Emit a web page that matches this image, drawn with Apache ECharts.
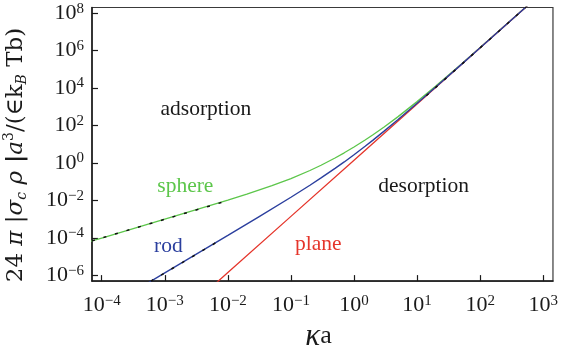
<!DOCTYPE html>
<html>
<head>
<meta charset="utf-8">
<script src="https://cdn.jsdelivr.net/npm/echarts@6/dist/echarts.min.js"></script>
<style>
html, body { margin: 0; padding: 0; background: #fff; }
#chart { width: 561px; height: 357px; }
</style>
</head>
<body>
<div id="chart"></div>
<script>
// Critical charge density versus κa for three geometries (log–log).
const sphereKa = [5e-5, 1e-4, 1e-3, 1e-2, 0.02, 0.05, 0.1, 0.2, 0.3, 0.5, 0.7, 1, 1.5, 2, 3, 5, 10, 20, 50, 100, 1000];
const sphereY  = [4.9e-5, 9.8e-5, 9.85e-4, 1.03e-2, 2.15e-2, 6.09e-2, 0.146, 0.395, 0.755, 1.84, 3.47, 7.08, 16.8, 32.0, 83.0, 297, 1880, 1.31e4, 1.87e5, 1.45e6, 1.405e9];

const rodKa = [5e-4, 1e-3, 1e-2, 0.03, 0.1, 0.2, 0.3, 0.5, 0.7, 1, 1.5, 2, 3, 5, 10, 20, 50, 100, 1000];
const rodY  = [3.33e-7, 1.33e-6, 1.34e-4, 1.24e-3, 1.47e-2, 6.44e-2, 0.158, 0.508, 1.13, 2.73, 7.72, 16.5, 49.8, 208, 1530, 1.17e4, 1.78e5, 1.41e6, 1.40e9];

const planeKa = [4e-3, 1e-2, 0.1, 1, 10, 100, 1000];
const planeY  = [8.96e-8, 1.4e-6, 1.4e-3, 1.4, 1400, 1.4e6, 1.4e9];

// limiting forms (dashed)
const sphereLimitKa = [7e-5, 8e-3];
const sphereLimitY  = [6.9e-5, 7.8e-3];
const rodLimitKa = [6e-4, 8e-3];
const rodLimitY  = [4.8e-7, 8.5e-5];
const bulkLimitKa = [14, 1000];
const bulkLimitY  = [3840, 1.4e9];

// decade exponents carrying ticks and labels
const xTickExp = [-4, -3, -2, -1, 0, 1, 2, 3];
const yTickExp = [-6, -4, -2, 0, 2, 4, 6, 8];

const lg = Math.log10;
const toLog = (xs, ys) => xs.map((x, i) => [lg(x), lg(ys[i])]);

const SERIF = '"Liberation Serif", "Times New Roman", serif';
const WIDE_SERIF = '"DejaVu Serif", serif';
const INK = '#1a1a1a';

const decadeLabel = v => {
  const e = Math.round(v);
  const s = e < 0 ? '\u2212' + Math.abs(e) : String(e);
  return '{b|10}{s|' + s + '}';
};
const decadeRich = {
  b: { fontFamily: SERIF, fontSize: 22, color: INK, lineHeight: 24 },
  s: { fontFamily: SERIF, fontSize: 15, color: INK, lineHeight: 15, verticalAlign: 'top' }
};

const chart = echarts.init(document.getElementById('chart'), null, { renderer: 'canvas' });

const lineSeries = (data, color, width, z, dash) => ({
  type: 'line',
  data,
  showSymbol: false,
  silent: true,
  smooth: false,
  z,
  lineStyle: { color, width, type: dash || 'solid' }
});

// rich pieces of the vertical axis title
const yTitleRich = {
  n:   { fontFamily: WIDE_SERIF, fontSize: 23, fill: INK, lineHeight: 27 },
  i:   { fontFamily: WIDE_SERIF, fontStyle: 'italic', fontSize: 23, fill: INK, lineHeight: 27 },
  bar: { fontFamily: WIDE_SERIF, fontWeight: 'bold', fontSize: 23, fill: INK, lineHeight: 27 },
  sub: { fontFamily: WIDE_SERIF, fontStyle: 'italic', fontSize: 14, fill: INK, lineHeight: 15, verticalAlign: 'bottom' },
  sup: { fontFamily: WIDE_SERIF, fontSize: 14, fill: INK, lineHeight: 15, verticalAlign: 'top' }
};

chart.setOption({
  animation: false,
  grid: {
    left: 92, right: 8, top: 7.5, bottom: 65,
    show: true, borderColor: '#3a3a3a', borderWidth: 1.2, backgroundColor: 'transparent'
  },
  xAxis: {
    type: 'value',
    min: -4.154, max: 3.154,
    axisLine: { onZero: false, lineStyle: { color: INK, width: 1.5 } },
    axisTick: { inside: true, length: 6, customValues: xTickExp, lineStyle: { color: INK, width: 1.2 } },
    axisLabel: { customValues: xTickExp, formatter: decadeLabel, rich: decadeRich, margin: 12 },
    splitLine: { show: false },
    name: '{k|κ}{a|a}',
    nameLocation: 'middle',
    nameGap: 39,
    nameTextStyle: {
      padding: [0, 8, 0, 0],
      rich: {
        k: { fontFamily: SERIF, fontStyle: 'italic', fontSize: 31, color: INK },
        a: { fontFamily: SERIF, fontSize: 26, color: INK }
      }
    }
  },
  yAxis: {
    type: 'value',
    min: -6.31, max: 8.3,
    axisLine: { onZero: false, lineStyle: { color: INK, width: 1.5 } },
    axisTick: { inside: true, length: 6, customValues: yTickExp, lineStyle: { color: INK, width: 1.2 } },
    axisLabel: { customValues: yTickExp, formatter: decadeLabel, rich: decadeRich, margin: 8 },
    splitLine: { show: false }
  },
  series: [
    lineSeries(toLog(sphereKa, sphereY), '#5cc64a', 1.3, 2),
    lineSeries(toLog(planeKa, planeY), '#e5352b', 1.3, 3),
    lineSeries(toLog(rodKa, rodY), '#2b3f9e', 1.4, 4),
    lineSeries(toLog(sphereLimitKa, sphereLimitY), '#111', 1.5, 5, [3, 9]),
    lineSeries(toLog(rodLimitKa, rodLimitY), '#111', 1.5, 5, [3, 9]),
    lineSeries(toLog(bulkLimitKa, bulkLimitY), '#111', 1.5, 5, [3, 9])
  ],
  graphic: [
    {
      type: 'text', x: 16, y: 155, rotation: Math.PI / 2,
      style: {
        text: '{n|24 }{i|π}{n| |}{i|σ}{sub|c}{i| ρ}{bar| |}{i|a}{sup|3}{n|/(∈k}{sub|B}{n| Tb)}',
        rich: yTitleRich, align: 'center', verticalAlign: 'middle'
      }
    },
    { type: 'text', x: 160.5, y: 109.5, style: { text: 'adsorption', font: '21.5px ' + SERIF, fill: INK, textVerticalAlign: 'middle' } },
    { type: 'text', x: 378.3, y: 186, style: { text: 'desorption', font: '21.5px ' + SERIF, fill: INK, textVerticalAlign: 'middle' } },
    { type: 'text', x: 157.3, y: 186, style: { text: 'sphere', font: '21.5px ' + SERIF, fill: '#5cc64a', textVerticalAlign: 'middle' } },
    { type: 'text', x: 154, y: 246.7, style: { text: 'rod', font: '21.5px ' + SERIF, fill: '#2b3f9e', textVerticalAlign: 'middle' } },
    { type: 'text', x: 295, y: 244.4, style: { text: 'plane', font: '21.5px ' + SERIF, fill: '#e5352b', textVerticalAlign: 'middle' } }
  ]
});
</script>
</body>
</html>
